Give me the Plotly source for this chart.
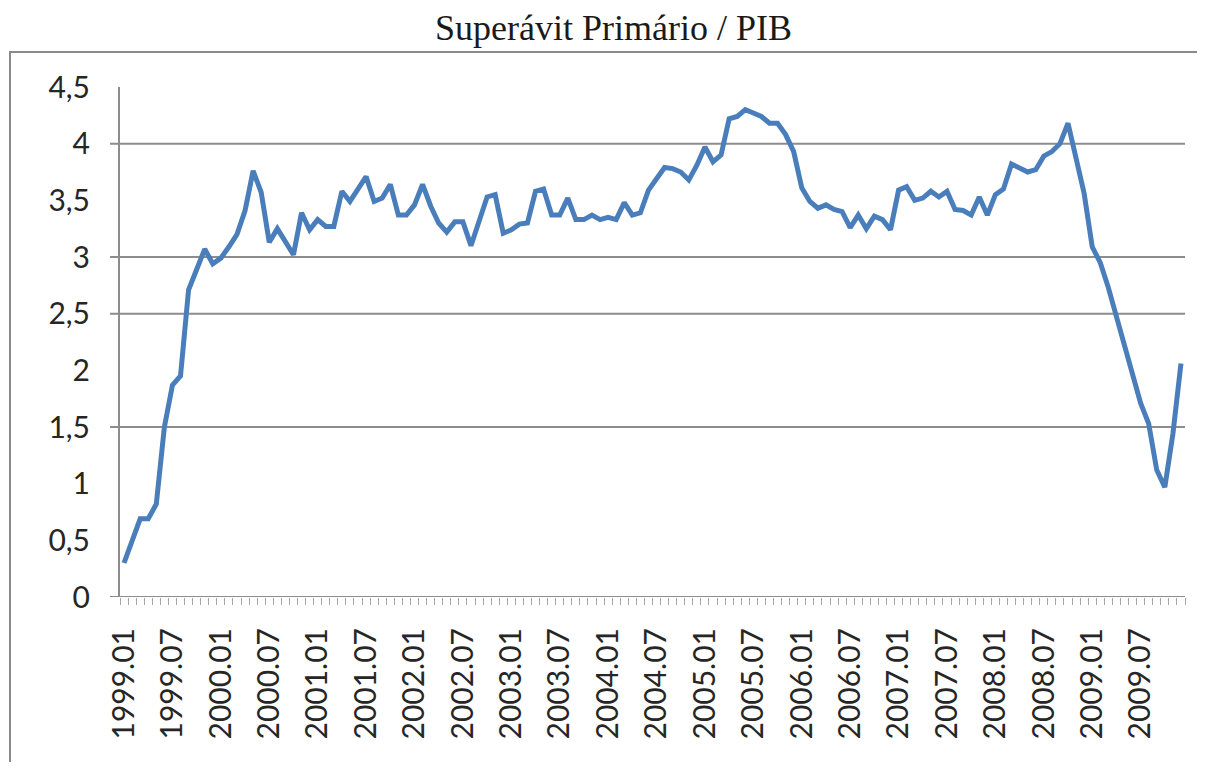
import plotly.graph_objects as go

# ---- data -------------------------------------------------------------
years = list(range(1999, 2010))
months = ["01", "02", "03", "04", "05", "06", "07", "08", "09", "10", "11", "12"]
periods = [f"{y}.{m}" for y in years for m in months]   # 1999.01 .. 2009.12

superavit = [
    0.30, 0.50, 0.69, 0.69, 0.82, 1.50, 1.87, 1.95, 2.71, 2.89, 3.07, 2.94,   # 1999
    2.99, 3.09, 3.20, 3.41, 3.76, 3.57, 3.13, 3.25, 3.13, 3.02, 3.39, 3.24,   # 2000
    3.33, 3.27, 3.27, 3.58, 3.49, 3.60, 3.71, 3.49, 3.52, 3.64, 3.37, 3.37,   # 2001
    3.46, 3.64, 3.45, 3.30, 3.22, 3.31, 3.31, 3.10, 3.33, 3.53, 3.55, 3.21,   # 2002
    3.24, 3.29, 3.30, 3.58, 3.60, 3.37, 3.37, 3.52, 3.33, 3.33, 3.37, 3.33,   # 2003
    3.35, 3.33, 3.48, 3.37, 3.39, 3.59, 3.69, 3.79, 3.78, 3.75, 3.68, 3.81,   # 2004
    3.97, 3.84, 3.90, 4.22, 4.24, 4.30, 4.27, 4.24, 4.18, 4.18, 4.08, 3.93,   # 2005
    3.61, 3.49, 3.43, 3.46, 3.42, 3.40, 3.26, 3.37, 3.25, 3.36, 3.33, 3.24,   # 2006
    3.59, 3.62, 3.50, 3.52, 3.58, 3.53, 3.58, 3.42, 3.41, 3.37, 3.53, 3.37,   # 2007
    3.55, 3.60, 3.82, 3.78, 3.75, 3.77, 3.89, 3.93, 4.00, 4.18, 3.87, 3.56,   # 2008
    3.09, 2.95, 2.73, 2.47, 2.22, 1.96, 1.71, 1.53, 1.12, 0.97, 1.44, 2.06,   # 2009
]

y_tick_values = [0, 0.5, 1, 1.5, 2, 2.5, 3, 3.5, 4, 4.5]
y_tick_labels = ["0", "0,5", "1", "1,5", "2", "2,5", "3", "3,5", "4", "4,5"]
visible_grid = [0, 1.5, 2.5, 3, 4]   # gridlines that show in the picture

title_text = "Superávit Primário / PIB"

# ---- figure -----------------------------------------------------------
x_idx = list(range(len(periods)))
label_idx = x_idx[::6]
label_txt = [periods[i] for i in label_idx]

OFF = 8  # page body margin
W, H = 1205 - 2 * OFF, 770 - 2 * OFF
L, T = 120 - OFF, 87 - OFF
R = W - (1185 - OFF)
B = H - (597 - OFF)
pw = W - L - R
ph = H - T - B

fig = go.Figure()
fig.add_trace(go.Scatter(
    x=x_idx, y=superavit, mode="lines",
    line=dict(color="#4a7ebb", width=5),
    customdata=periods, hovertemplate="%{customdata}: %{y}<extra></extra>",
    showlegend=False,
))

grid_color = "#8c8c8c"
shapes = []
for gv in visible_grid:
    shapes.append(dict(type="line", xref="paper", yref="y",
                       x0=-10 / pw, x1=1, y0=gv, y1=gv,
                       line=dict(color=grid_color, width=2), layer="below"))
# chart-area border (left and top edges visible)
shapes.append(dict(type="rect", xref="paper", yref="paper",
                   x0=(10 - OFF - L) / pw, x1=(W + 20 - L) / pw,
                   y0=-(H + 20 - T - ph) / ph, y1=1 + (T - (52 - OFF)) / ph,
                   line=dict(color="#8a8a8a", width=2), layer="below"))

label_font = dict(family="Lato, Liberation Sans, sans-serif", size=30, color="#262626")

fig.update_layout(
    width=W, height=H,
    margin=dict(l=L, r=R, t=T, b=B),
    paper_bgcolor="white", plot_bgcolor="white",
    shapes=shapes,
    xaxis=dict(
        range=[-0.5, len(periods) - 0.5],
        tickmode="array", tickvals=label_idx, ticktext=label_txt,
        tickangle=-90, tickfont=label_font,
        ticks="", showgrid=False, zeroline=False,
        showline=False,
        ticklabelstandoff=24,
        minor=dict(tickmode="linear", tick0=-0.5, dtick=1, ticks="outside",
                   ticklen=7, tickwidth=1, tickcolor="#a6a6a6", showgrid=False),
    ),
    yaxis=dict(
        range=[0, 4.5],
        tickmode="array", tickvals=y_tick_values, ticktext=y_tick_labels,
        tickfont=label_font, ticks="", showgrid=False, zeroline=False,
        showline=True, linecolor=grid_color, linewidth=2,
        ticklabelstandoff=22,
    ),
    annotations=[dict(
        text=title_text, xref="paper", yref="paper",
        x=(613 - OFF - L) / pw, y=1 + (T - (28 - OFF)) / ph,
        xanchor="center", yanchor="middle", showarrow=False,
        font=dict(family="Liberation Serif, DejaVu Serif, serif", size=36, color="#1a1a1a"),
    )],
)

fig.write_html("out.html")
